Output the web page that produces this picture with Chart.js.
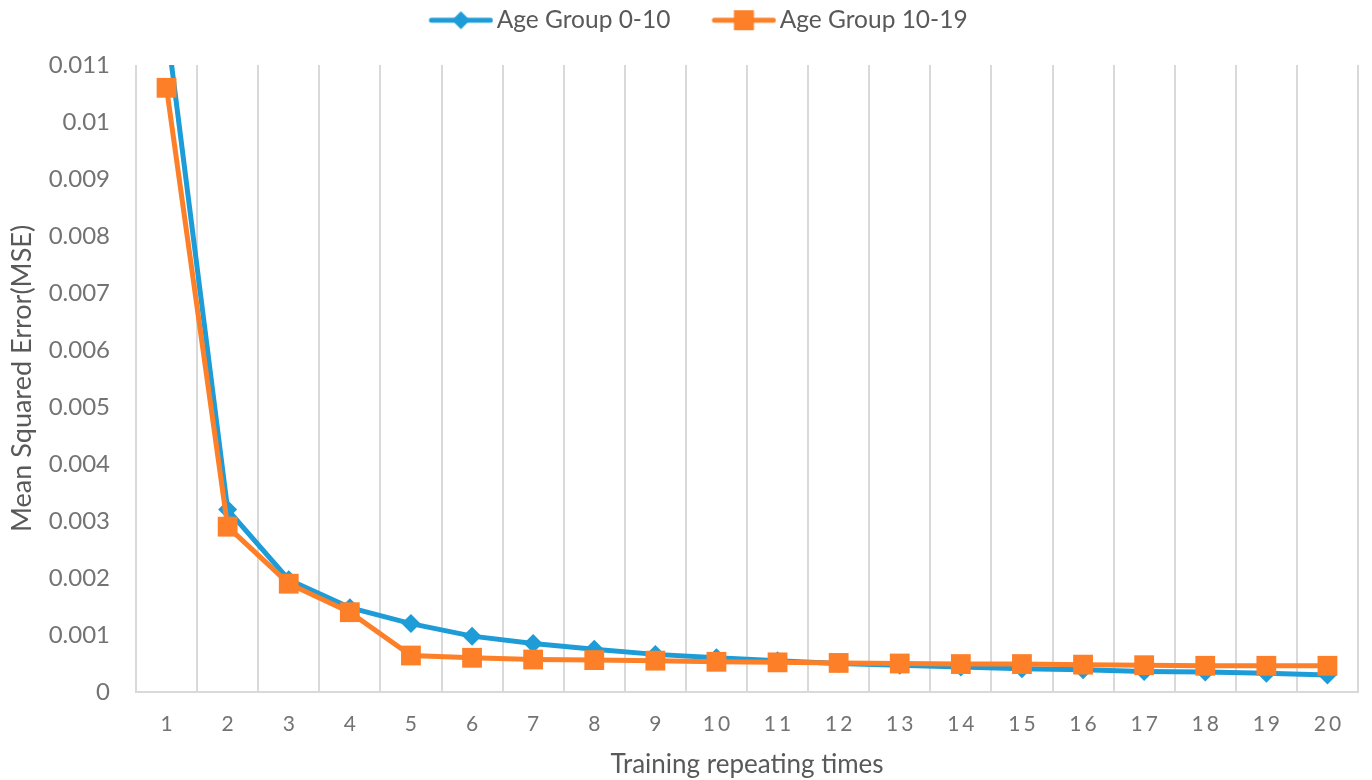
<!DOCTYPE html>
<html>
<head>
<meta charset="utf-8">
<script src="https://cdn.jsdelivr.net/npm/chart.js@4.4.1/dist/chart.umd.min.js"></script>
<style>
  html, body { margin: 0; padding: 0; background: #ffffff; }
  #wrap { width: 1372px; height: 780px; position: relative; }
</style>
</head>
<body>
<div id="wrap"><canvas id="chart" width="1372" height="780"></canvas></div>
<script>
// Training runs (x categories)
const runs = ['1','2','3','4','5','6','7','8','9','10','11','12','13','14','15','16','17','18','19','20'];

// Mean squared error per run, age group 0-10
const mseAge0to10 = [0.0117, 0.0032, 0.00197, 0.00148, 0.0012, 0.00098, 0.00085, 0.00075, 0.00066, 0.0006,
                     0.00055, 0.0005, 0.00047, 0.00044, 0.00041, 0.00039, 0.00036, 0.00035, 0.00033, 0.0003];

// Mean squared error per run, age group 10-19
const mseAge10to19 = [0.0106, 0.0029, 0.0019, 0.0014, 0.00064, 0.0006, 0.00057, 0.00056, 0.00055, 0.00053,
                      0.00052, 0.00051, 0.0005, 0.00049, 0.00049, 0.00048, 0.00047, 0.00046, 0.00046, 0.00046];

// Y axis range and step
const yMin = 0;
const yMax = 0.011;
const yStep = 0.001;

const seriesNames = ['Age Group 0-10', 'Age Group 10-19'];

const BLUE = '#1e9cd7';
const ORANGE = '#fd7f27';
const TEXT = '#595959';
const TICK_TEXT = '#737373';
const FONT = 'Lato, "Liberation Sans", sans-serif';

// Legend swatch: line segment with the series marker in its middle.
// The left part of the canvas is left empty to space the legend entries apart.
const SWATCH_GAP = 42;
function makeSwatch(color, marker) {
  const c = document.createElement('canvas');
  c.width = SWATCH_GAP + 65; c.height = 22;
  const g = c.getContext('2d');
  const x0 = SWATCH_GAP;
  g.strokeStyle = color;
  g.lineWidth = 5;
  g.lineCap = 'round';
  g.beginPath(); g.moveTo(x0 + 3, 11); g.lineTo(x0 + 62, 11); g.stroke();
  g.fillStyle = color;
  const cx = x0 + 32.5;
  if (marker === 'diamond') {
    g.beginPath();
    g.moveTo(cx, 2); g.lineTo(cx + 9, 11); g.lineTo(cx, 20); g.lineTo(cx - 9, 11);
    g.closePath(); g.fill();
  } else {
    g.fillRect(cx - 10, 1, 20, 20);
  }
  return c;
}
const swatches = [makeSwatch(BLUE, 'diamond'), makeSwatch(ORANGE, 'square')];

// Keeps the plot area a fixed distance below the top edge
const legendSpace = {
  id: 'legendSpace',
  beforeLayout(chart) {
    const lg = chart.legend;
    if (lg && !lg._spaced) {
      const fit = lg.fit;
      lg.fit = function () { fit.call(this); this.height = 65; };
      lg._spaced = true;
    }
  }
};

new Chart(document.getElementById('chart'), {
  type: 'line',
  plugins: [legendSpace],
  data: {
    labels: runs,
    datasets: [
      {
        label: seriesNames[0],
        data: mseAge0to10,
        borderColor: BLUE,
        backgroundColor: BLUE,
        borderWidth: 5,
        pointStyle: 'rectRot',
        pointRadius: 9.5,
        pointHoverRadius: 9.5,
        pointBorderWidth: 0,
        tension: 0,
        clip: 0,
        order: 1
      },
      {
        label: seriesNames[1],
        data: mseAge10to19,
        borderColor: ORANGE,
        backgroundColor: ORANGE,
        borderWidth: 5,
        pointStyle: 'rect',
        pointRadius: 14,
        pointHoverRadius: 14,
        pointBorderWidth: 0,
        tension: 0,
        order: 0
      }
    ]
  },
  options: {
    responsive: false,
    animation: false,
    events: [],
    layout: { padding: { top: 0, right: 9, bottom: 0, left: 0 } },
    plugins: {
      tooltip: { enabled: false },
      legend: {
        position: 'top',
        align: 'center',
        labels: {
          usePointStyle: true,
          pointStyleWidth: 89,
          boxHeight: 20,
          padding: 8,
          color: TEXT,
          font: { family: FONT, size: 24.5 },
          generateLabels: () => [0, 1].map(i => ({
            text: seriesNames[i],
            datasetIndex: i,
            pointStyle: swatches[i],
            fillStyle: 'transparent',
            strokeStyle: 'transparent',
            lineWidth: 0,
            fontColor: TEXT,
            hidden: false
          }))
        }
      }
    },
    scales: {
      x: {
        type: 'category',
        offset: true,
        grid: {
          display: true,
          offset: true,
          color: '#d9d9d9',
          lineWidth: 2,
          drawTicks: false
        },
        border: { display: true, color: '#d9d9d9', width: 2 },
        ticks: {
          color: TICK_TEXT,
          font: { family: FONT, size: 21 },
          padding: 20,
          maxRotation: 0,
          autoSkip: false
        },
        title: {
          display: true,
          text: 'Training repeating times',
          color: TEXT,
          font: { family: FONT, size: 26 },
          padding: { top: 0, bottom: 0 }
        },
        afterFit: s => {
          s.height = 88;
          // labels sit inside their category bands, no extra side room needed
          s.paddingLeft = 0;
          s.paddingRight = 0;
        },
        afterUpdate: s => {
          // spaced-out digits on the category labels
          if (s._spacedLabels) return;
          const base = Object.getPrototypeOf(s).drawLabels;
          s.drawLabels = function (area) {
            const c = this.ctx;
            c.save();
            c.letterSpacing = '3px';
            c.translate(1.5, 0);
            base.call(this, area);
            c.restore();
          };
          s._spacedLabels = true;
        }
      },
      y: {
        min: yMin,
        max: yMax,
        grid: { display: false, drawTicks: false },
        border: { display: false },
        ticks: {
          stepSize: yStep,
          color: TICK_TEXT,
          font: { family: FONT, size: 24 },
          padding: 26,
          callback: v => String(parseFloat(v.toFixed(4)))
        },
        title: {
          display: true,
          text: 'Mean Squared Error(MSE)',
          color: TEXT,
          font: { family: FONT, size: 27 },
          padding: { top: 6, bottom: 0 }
        },
        afterFit: s => { s.width = 136; }
      }
    }
  }
});
</script>
</body>
</html>
